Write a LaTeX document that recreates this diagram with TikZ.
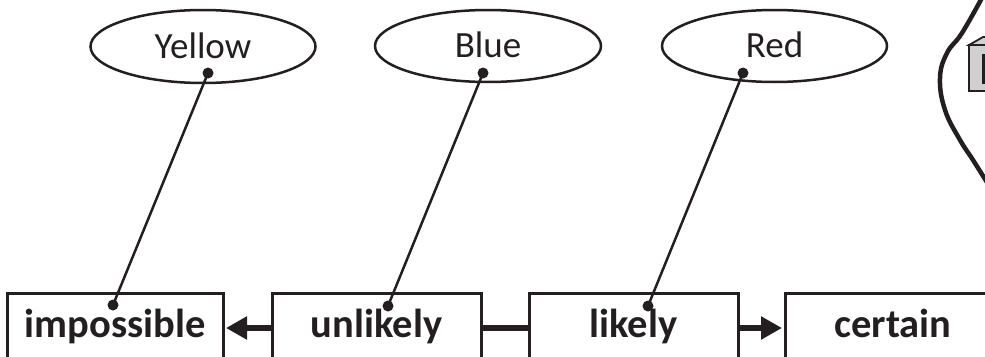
\documentclass[tikz,border=0pt]{standalone}
\usepackage{fontspec}
\setmainfont{Carlito}
\usetikzlibrary{arrows.meta,shapes.geometric}
\definecolor{ink}{HTML}{231F20}
\definecolor{boxgray}{HTML}{D0D0D0}
\tikzset{
  stage/.style={draw=ink, line width=3pt, rectangle, minimum height=70pt, inner sep=0pt, outer sep=0pt,
    font=\fontsize{40.5}{42}\selectfont\bfseries, text=ink, text height=29pt, text depth=11pt},
  colour/.style={draw=ink, line width=2.5pt, ellipse, minimum width=225pt, minimum height=73pt, inner sep=0pt, outer sep=0pt,
    font=\fontsize{37}{40}\selectfont, text=ink, text height=23pt, text depth=0pt},
  pin/.style={circle, fill=ink, minimum size=11pt, inner sep=0pt, outer sep=0pt},
  link/.style={draw=ink, line width=2.5pt},
  arr/.style={draw=ink, line width=6pt, -{Triangle[length=21pt,width=22pt]}, shorten >=3pt},
  bar/.style={draw=ink, line width=6pt}
}
\begin{document}
\begin{tikzpicture}[x=1pt,y=-1pt]
\useasboundingbox (0,0) rectangle (985,356);
\clip (0,0) rectangle (985,356);
\fill[white] (0,0) rectangle (985,356);
% stages
\node[stage, minimum width=216pt] (impossible) at (115,328) {impossible};
\node[stage, minimum width=209pt] (unlikely) at (376.5,328) {unlikely};
\node[stage, minimum width=209pt] (likely) at (633.5,328) {likely};
\node[stage, minimum width=216pt] (certain) at (893,328) {certain};
% connectors between stages
\draw[arr] (unlikely.west) -- (impossible.east);
\draw[bar] (unlikely.east) -- (likely.west);
\draw[arr] (likely.east) -- (certain.west);
% colours
\node[colour] (yellow) at (203,46.5) {Yellow};
\node[colour, minimum width=226pt, minimum height=72pt] (blue) at (488,46) {Blue};
\node[colour, minimum height=72pt] (red) at (774.5,46) {Red};
% pins
\node[pin] (py1) at (208,73) {};
\node[pin] (py2) at (113,305) {};
\node[pin] (pb1) at (483,73) {};
\node[pin] (pb2) at (388,306) {};
\node[pin] (pr1) at (743,73) {};
\node[pin] (pr2) at (648,306) {};
\draw[link] (py1.center) -- (py2.center);
\draw[link] (pb1.center) -- (pb2.center);
\draw[link] (pr1.center) -- (pr2.center);
% bag on the right
\draw[ink, line width=4.5pt, line cap=round] plot[smooth, tension=0.7] coordinates
  {(983,-4) (962,33) (947,53) (940,78) (945,110) (960,140) (973,160) (988,184)};
\draw[ink, line width=1.8pt, fill=boxgray] (969,45) -- (983,37) -- (1000,37) -- (990,45) -- cycle;
\draw[ink, line width=1.8pt, fill=boxgray] (969,45) rectangle (992,91);
\fill[ink] (982,54) rectangle (992,84);
\end{tikzpicture}
\end{document}
